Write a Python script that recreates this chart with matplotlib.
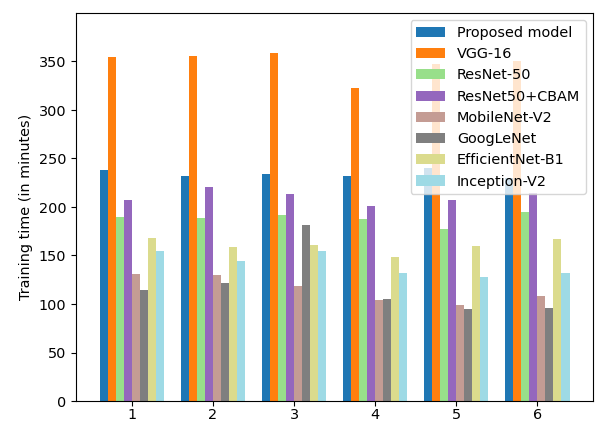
import numpy as np
import matplotlib.pyplot as plt

groups = [1, 2, 3, 4, 5, 6]
models = ['Proposed model', 'VGG-16', 'ResNet-50', 'ResNet50+CBAM',
          'MobileNet-V2', 'GoogLeNet', 'EfficientNet-B1', 'Inception-V2']

proposed = [238, 232, 234, 232, 240, 230]
vgg16 = [355, 356, 359, 323, 347, 351]
resnet50 = [190, 189, 192, 188, 177, 195]
resnet_cbam = [207, 221, 213, 201, 207, 214]
mobilenet = [131, 130, 119, 104, 99, 108]
googlenet = [114, 122, 181, 105, 95, 96]
efficientnet = [168, 159, 161, 148, 160, 167]
inception = [155, 144, 155, 132, 128, 132]

colors = ['#1f77b4', '#ff7f0e', '#98df8a', '#9467bd',
          '#c49c94', '#7f7f7f', '#dbdb8d', '#9edae5']

data = [proposed, vgg16, resnet50, resnet_cbam, mobilenet, googlenet, efficientnet, inception]

plt.rcParams['font.size'] = 10.4

fig = plt.figure(figsize=(5.95, 4.23), dpi=100)
ax = fig.add_axes([76 / 595, 1 - 401 / 423, (593 - 76) / 595, (401 - 13) / 423])

x = np.array(groups)
w = 0.1
for i, (vals, name) in enumerate(zip(data, models)):
    ax.bar(x + (i - 3.5) * w, vals, w, color=colors[i], label=name)

ax.set_xticks(x)
ax.tick_params(axis='x', pad=1.5)
ax.set_ylim(0, 400)
ax.set_yticks(np.arange(0, 351, 50))
ax.set_ylabel('Training time (in minutes)')
ax.legend(loc='upper right')

plt.savefig('out.png')
plt.close()
